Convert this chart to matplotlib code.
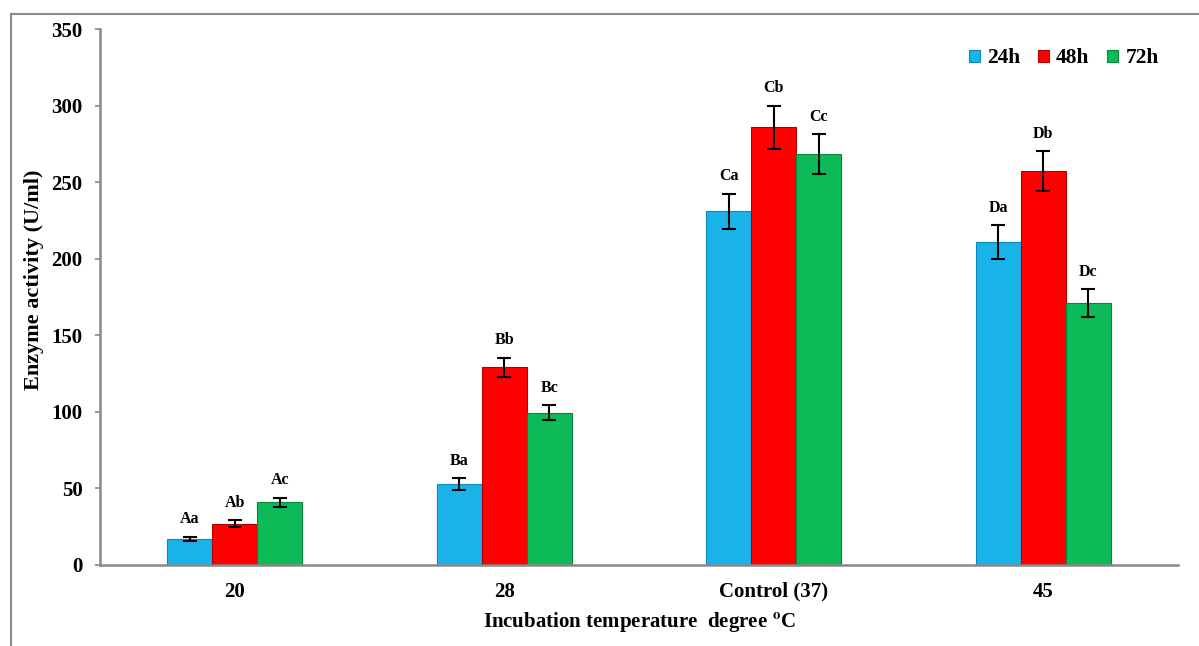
import matplotlib
matplotlib.use('Agg')
import matplotlib.pyplot as plt
import numpy as np
from matplotlib.lines import Line2D

plt.rcParams['font.family'] = ['Liberation Serif', 'DejaVu Serif']
plt.rcParams['font.weight'] = 'bold'
plt.rcParams['mathtext.fontset'] = 'stix'

# data
groups = ['20', '28', 'Control (37)', '45']
series = ['24h', '48h', '72h']
vals_24h = [17, 53, 231, 211]
vals_48h = [27, 129, 286, 257.5]
vals_72h = [41, 99.5, 268.5, 171]
err_24h = [1.5, 4, 11.5, 11]
err_48h = [2.5, 6.5, 14, 13]
err_72h = [3, 5, 13, 9]
letters_24h = ['Aa', 'Ba', 'Ca', 'Da']
letters_48h = ['Ab', 'Bb', 'Cb', 'Db']
letters_72h = ['Ac', 'Bc', 'Cc', 'Dc']

colors = ['#19B3EA', '#FF0000', '#0CBB58']
edges = ['#0F86B8', '#B00000', '#07853D']

fig = plt.figure(figsize=(11.99, 6.46), dpi=100)
ax = fig.add_axes([0.0834, 0.1254, 0.8991, 0.8296])

x = np.arange(len(groups))
width = 0.167
all_vals = [vals_24h, vals_48h, vals_72h]
all_errs = [err_24h, err_48h, err_72h]
all_letters = [letters_24h, letters_48h, letters_72h]

for i, (v, e, lab) in enumerate(zip(all_vals, all_errs, all_letters)):
    pos = x + (i - 1) * width
    ax.bar(pos, v, width, color=colors[i], edgecolor=edges[i], linewidth=0.8,
           label=series[i], zorder=2)
    ax.errorbar(pos, v, yerr=e, fmt='none', ecolor='black', elinewidth=1.5,
                capsize=5, capthick=1.5, zorder=3)
    for p, val, err, t in zip(pos, v, e, lab):
        ax.text(p, val + err + 6, t, ha='center', va='bottom',
                fontsize=11.5, fontweight='bold')

ax.set_xlim(-0.5, 3.5)
ax.set_ylim(0, 350)
ax.set_yticks(np.arange(0, 351, 50))
ax.set_xticks(x)
ax.set_xticklabels(groups, fontsize=15, fontweight='bold')
ax.tick_params(axis='y', labelsize=15, length=3.6, width=1.2, color='#898989',
               direction='out', pad=9)
ax.tick_params(axis='x', length=0, pad=12)
for lbl in ax.get_yticklabels():
    lbl.set_fontweight('bold')

for s in ['top', 'right']:
    ax.spines[s].set_visible(False)
for s in ['left', 'bottom']:
    ax.spines[s].set_color('#898989')
    ax.spines[s].set_linewidth(1.8)

ax.set_ylabel('Enzyme activity (U/ml)', fontsize=16, fontweight='bold')
ax.yaxis.set_label_coords(-0.052, 0.532)
ax.set_xlabel('Incubation temperature  degree $^{\\mathbf{o}}$C', fontsize=15,
              fontweight='bold', labelpad=6)

ax.legend(loc='upper right', ncol=3, frameon=False, fontsize=15.5, handlelength=0.5,
          handleheight=0.5, handletextpad=0.35, columnspacing=0.8,
          bbox_to_anchor=(1.0, 1.0))

# outer frame lines
fig.add_artist(Line2D([11 / 1199, 11 / 1199], [0, 1 - 14 / 646], transform=fig.transFigure,
                      color='#898989', linewidth=1.5))
fig.add_artist(Line2D([11 / 1199, 1], [1 - 14 / 646, 1 - 14 / 646], transform=fig.transFigure,
                      color='#898989', linewidth=1.5))

fig.savefig('out.png', dpi=100)
